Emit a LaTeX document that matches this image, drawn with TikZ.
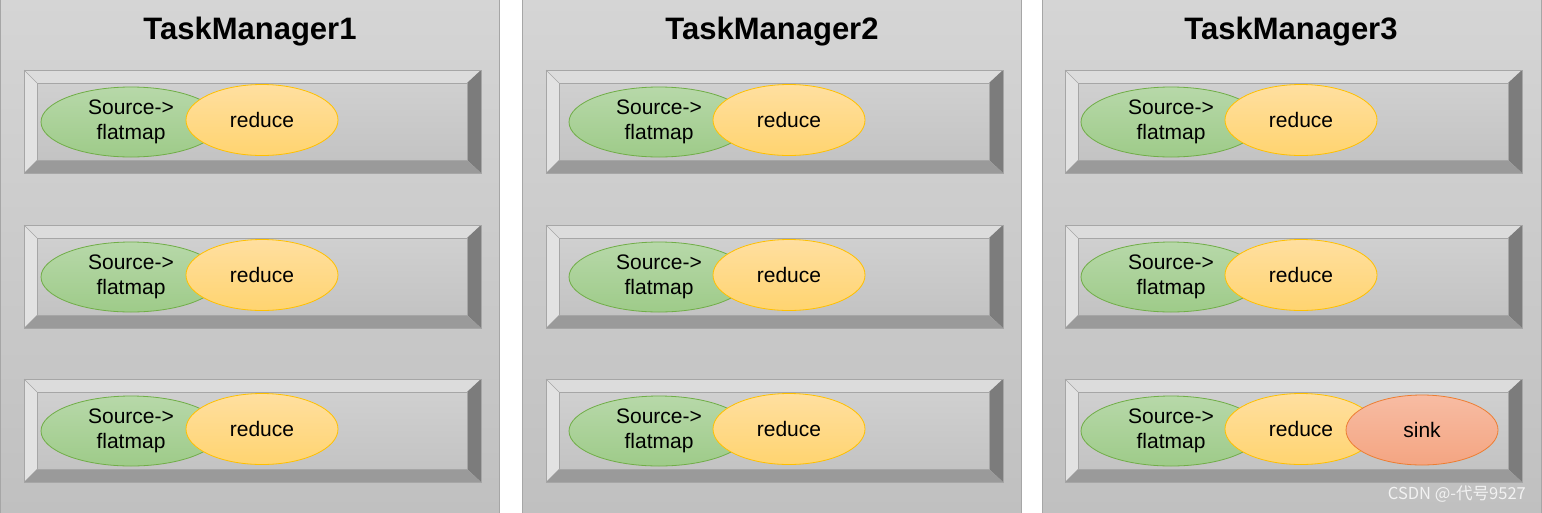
\documentclass[tikz,border=0pt]{standalone}
\usepackage{fontspec}
\setmainfont{Liberation Sans}
\newfontfamily\cjkfont{Noto Sans CJK SC}
\usetikzlibrary{shapes.geometric}
\definecolor{panelT}{HTML}{D5D5D5}
\definecolor{panelB}{HTML}{C0C0C0}
\definecolor{panelLine}{HTML}{A6A6A6}
\definecolor{bevTop}{HTML}{DCDCDC}
\definecolor{bevLeft}{HTML}{E2E2E2}
\definecolor{bevRight}{HTML}{7C7C7C}
\definecolor{bevBot}{HTML}{9A9A9A}
\definecolor{faceT}{HTML}{D0D0D0}
\definecolor{faceB}{HTML}{C3C3C3}
\definecolor{grnT}{HTML}{B7D8A9}
\definecolor{grnB}{HTML}{9ECB89}
\definecolor{grnLine}{HTML}{70AD47}
\definecolor{orgT}{HTML}{FFDFA0}
\definecolor{orgB}{HTML}{FFD470}
\definecolor{orgLine}{HTML}{FFC000}
\definecolor{snkT}{HTML}{F7BCA3}
\definecolor{snkB}{HTML}{F4A582}
\definecolor{snkLine}{HTML}{ED7D31}
\definecolor{wmark}{HTML}{F2F2F2}
\tikzset{
  panelbg/.style={top color=panelT, bottom color=panelB},
  panelside/.style={draw=panelLine, line width=1pt},
  bevelline/.style={draw=panelLine, line width=0.8pt},
  titletext/.style={font=\fontsize{31}{37}\selectfont\bfseries, anchor=base, inner sep=0pt},
  opell/.style={ellipse, inner sep=0pt, line width=0.8pt, align=center,
    font=\fontsize{21}{25}\selectfont},
  srcell/.style={opell, minimum width=180pt, minimum height=70pt,
    top color=grnT, bottom color=grnB, draw=grnLine, text depth=4pt},
  redell/.style={opell, minimum width=152pt, minimum height=71pt,
    top color=orgT, bottom color=orgB, draw=orgLine},
  sinkell/.style={opell, minimum width=152pt, minimum height=70pt,
    top color=snkT, bottom color=snkB, draw=snkLine},
  wmtext/.style={font=\cjkfont\fontsize{16.5}{19}\selectfont, text=wmark, anchor=base east, inner sep=0pt}
}
\newcommand\bevelbox[2]{%
  % #1 left x, #2 top y ; box 457 x 103
  \fill[bevTop] (#1,#2) -- (#1+457,#2) -- (#1+443,#2+13) -- (#1+13,#2+13) -- cycle;
  \fill[bevLeft] (#1,#2) -- (#1+13,#2+13) -- (#1+13,#2+90) -- (#1,#2+103) -- cycle;
  \fill[bevRight] (#1+457,#2) -- (#1+457,#2+103) -- (#1+443,#2+90) -- (#1+443,#2+13) -- cycle;
  \fill[bevBot] (#1,#2+103) -- (#1+13,#2+90) -- (#1+443,#2+90) -- (#1+457,#2+103) -- cycle;
  \shade[top color=faceT, bottom color=faceB] (#1+13,#2+13) rectangle (#1+443,#2+90);
  \draw[bevelline] (#1,#2) rectangle (#1+457,#2+103);
  \draw[bevelline, line width=0.5pt] (#1+13,#2+13) rectangle (#1+443,#2+90);
  \draw[bevelline, line width=0.5pt] (#1,#2) -- (#1+13,#2+13);
}
\begin{document}
\begin{tikzpicture}[x=1pt,y=-1pt]
\useasboundingbox (0,0) rectangle (1542,512);
\fill[white] (0,0) rectangle (1542,512);
% panels
\foreach \a/\b in {0/499, 522/1021, 1042/1541}{
  \shade[panelbg] (\a,-2) rectangle (\b,514);
  \draw[panelside] (\a,-2) -- (\a,514);
  \draw[panelside] (\b,-2) -- (\b,514);
}
\node[titletext] (t1) at (250,39) {TaskManager1};
\node[titletext] (t2) at (772,39) {TaskManager2};
\node[titletext] (t3) at (1291,39) {TaskManager3};
% slots
\foreach \p/\L/\gx/\ox in {1/24/131/262, 2/546/659/789, 3/1065/1171/1301}{
  \foreach \r/\T in {1/70, 2/225, 3/379}{
    \bevelbox{\L}{\T}
    \node[srcell] (g\p\r) at (\gx,\T+52) {Source->\\flatmap};
    \node[redell] (o\p\r) at (\ox,\T+50) {reduce};
  }
}
\node[sinkell] (s33) at (1422,430) {sink};
\node[wmtext] (wm) at (1526,499) {CSDN @-代号9527};
\end{tikzpicture}
\end{document}
